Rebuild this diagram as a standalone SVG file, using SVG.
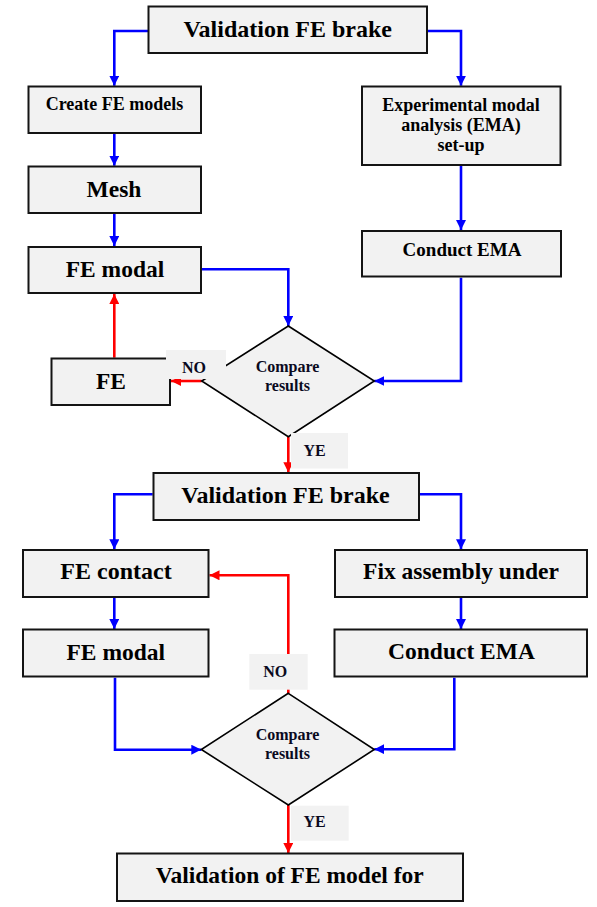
<svg xmlns="http://www.w3.org/2000/svg" width="597" height="907" viewBox="0 0 597 907">
<defs>
<marker id="ab" viewBox="0 0 10 10" refX="10" refY="5" markerWidth="10" markerHeight="10" markerUnits="userSpaceOnUse" orient="auto"><path d="M0,0 L10,5 L0,10 z" fill="#0000ff"/></marker>
<marker id="ar" viewBox="0 0 10 10" refX="10" refY="5" markerWidth="10" markerHeight="10" markerUnits="userSpaceOnUse" orient="auto"><path d="M0,0 L10,5 L0,10 z" fill="#ff0000"/></marker>
<style>
.box{fill:#f2f2f2;stroke:#141414;stroke-width:2}
.dia{fill:#f2f2f2;stroke:#000;stroke-width:1.6}
.lbg{fill:#f2f2f2;stroke:none}
.b{fill:none;stroke:#0000ff;stroke-width:2.6;marker-end:url(#ab)}
.r{fill:none;stroke:#ff0000;stroke-width:2.6;marker-end:url(#ar)}
text{font-family:"Liberation Serif","Times New Roman",serif;font-weight:bold;fill:#000;text-anchor:middle}
.t24{font-size:24px}
.t23{font-size:23.5px}
.t18{font-size:18px}
.t16{font-size:16px;fill:#0a0a1e}
</style>
</defs>
<g id="connectors">
<path class="b" d="M148,31 H114.3 V85.7"/>
<path class="b" d="M428,31 H461 V85.7"/>
<path class="b" d="M114.3,134 V165.7"/>
<path class="b" d="M114.3,213.7 V246"/>
<path class="b" d="M461,165.7 V230"/>
<path class="b" d="M201.7,269.3 H288.3 V326"/>
<path class="b" d="M461,277.7 V381 H374.3"/>
<path class="r" d="M201.7,381 H171"/>
<path class="r" d="M114.3,357.7 V294"/>
<path class="r" d="M288.3,436.7 V472.3"/>
<path class="b" d="M152.7,494.3 H114.3 V549.3"/>
<path class="b" d="M419.7,494.3 H461 V549.3"/>
<path class="b" d="M114.3,597.7 V629"/>
<path class="b" d="M461,597.7 V629"/>
<path class="b" d="M115,677.7 V749.7 H201.3"/>
<path class="b" d="M454.3,677.7 V749.2 H374.3"/>
<path class="r" d="M288.3,693.3 V575.3 H209.5"/>
<path class="r" d="M288.3,805 V853"/>
</g>
<g id="n-validation1"><rect class="box" x="148.5" y="6.5" width="278.5" height="46.5"/><text class="t24" x="287.7" y="37">Validation FE brake</text></g>
<g id="n-create"><rect class="box" x="28.5" y="86.5" width="172.5" height="46.5"/><text class="t18" x="114.5" y="110">Create FE models</text></g>
<g id="n-exp"><rect class="box" x="362" y="86.5" width="198.5" height="78.5"/><text class="t18" x="461" y="110.7">Experimental modal</text><text class="t18" x="461" y="131">analysis (EMA)</text><text class="t18" x="461" y="150.7">set-up</text></g>
<g id="n-mesh"><rect class="box" x="28.5" y="166.5" width="172.5" height="46.5"/><text class="t23" x="114" y="196.7">Mesh</text></g>
<g id="n-femodal1"><rect class="box" x="28.5" y="247" width="172.5" height="46"/><text class="t23" x="115" y="276.7">FE modal</text></g>
<g id="n-conduct1"><rect class="box" x="362" y="231" width="199" height="45.5"/><text class="t18" x="462" y="255.7" style="font-size:19px">Conduct EMA</text></g>
<g id="n-fe"><rect class="box" x="51.5" y="358.5" width="118.5" height="46.5"/><text class="t23" x="111" y="389.3">FE</text></g>
<g id="n-compare1"><polygon class="dia" points="288.3,326 374.3,381 288.3,436.7 201.7,381"/><text class="t16" x="287.5" y="371.7">Compare</text><text class="t16" x="287.5" y="390.7">results</text></g>
<g id="n-validation2"><rect class="box" x="153.5" y="473" width="265.5" height="47"/><text class="t24" x="285.5" y="502.7">Validation FE brake</text></g>
<g id="n-fecontact"><rect class="box" x="23" y="550" width="185.5" height="47"/><text class="t24" x="116" y="579.3">FE contact</text></g>
<g id="n-fix"><rect class="box" x="335" y="550" width="252" height="47"/><text class="t23" x="461" y="579.3">Fix assembly under</text></g>
<g id="n-femodal2"><rect class="box" x="23" y="629.5" width="185.5" height="47"/><text class="t23" x="115.8" y="659.7">FE modal</text></g>
<g id="n-conduct2"><rect class="box" x="334.5" y="629.5" width="252.5" height="47"/><text class="t23" x="461.5" y="659">Conduct EMA</text></g>
<g id="n-compare2"><polygon class="dia" points="288.3,693.3 374.3,749.5 288.3,805 201.3,749.5"/><text class="t16" x="287.5" y="740">Compare</text><text class="t16" x="287.5" y="759">results</text></g>
<g id="n-final"><rect class="box" x="117" y="853.5" width="346" height="47.5"/><text class="t23" x="289.7" y="883.3">Validation of FE model for</text></g>
<g id="labels">
<rect class="lbg" x="166" y="350" width="60" height="29"/><text class="t16" x="194" y="372.7">NO</text>
<rect class="lbg" x="291" y="433" width="57" height="35.5"/><text class="t16" x="314.5" y="455.5">YE</text>
<rect class="lbg" x="249.3" y="654" width="58.4" height="35.7"/><text class="t16" x="275.3" y="676.7">NO</text>
<rect class="lbg" x="291" y="805.7" width="57.7" height="35"/><text class="t16" x="314.5" y="826.7">YE</text>
</g>
</svg>
